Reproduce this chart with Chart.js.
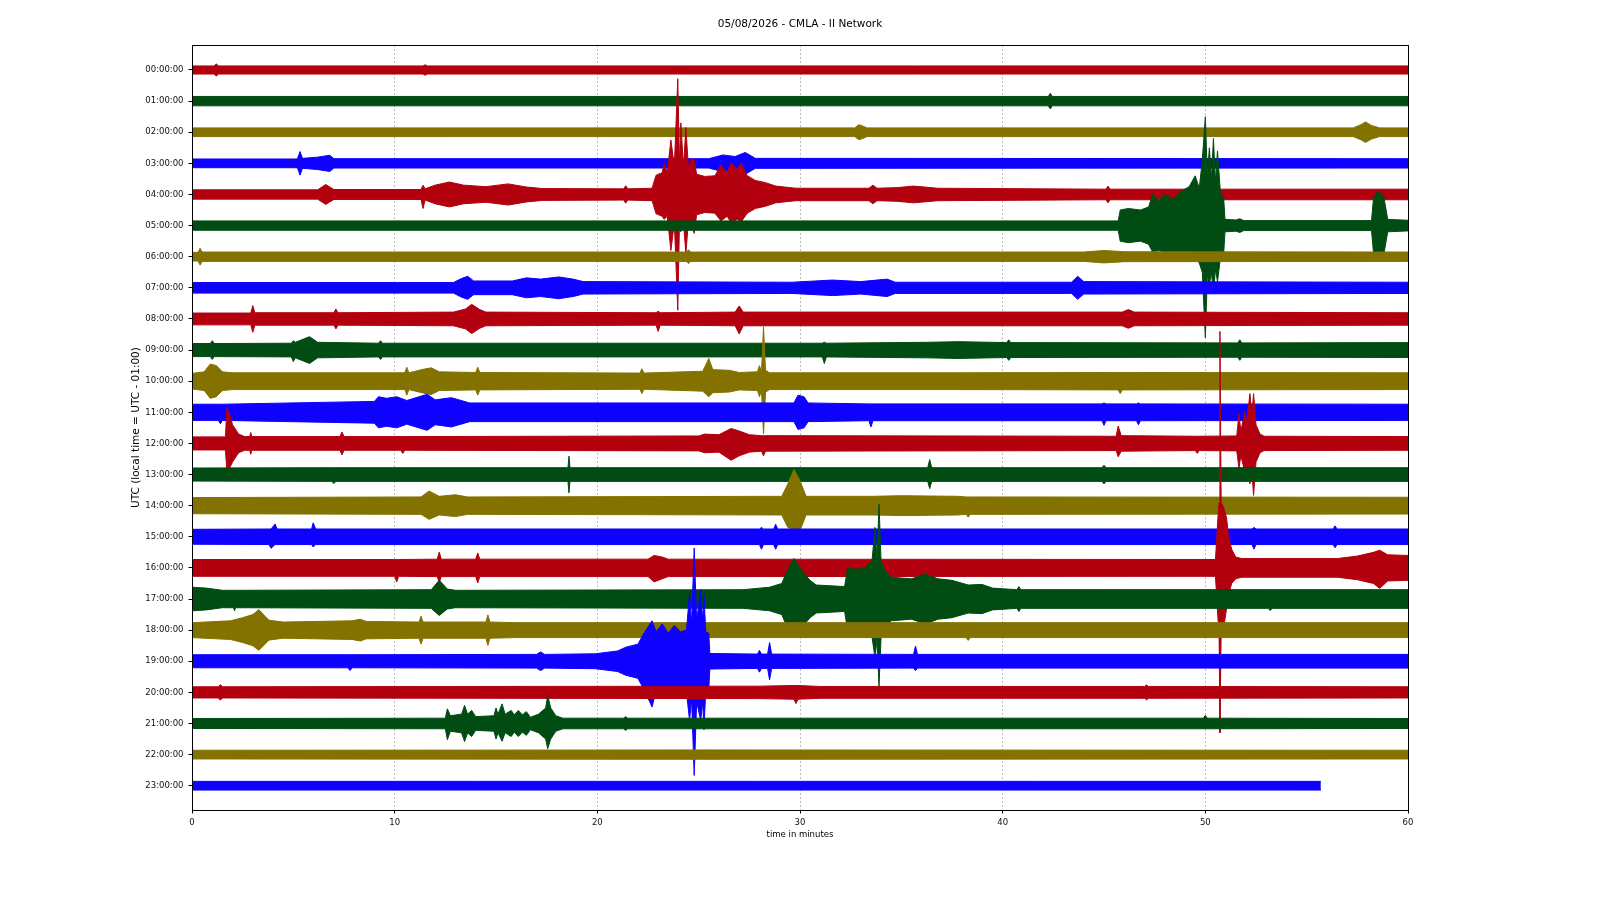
<!DOCTYPE html>
<html>
<head>
<meta charset="utf-8">
<title>05/08/2026 - CMLA - II Network</title>
<script src="https://cdn.jsdelivr.net/npm/chart.js@4.4.1/dist/chart.umd.min.js"></script>
<style>
  html, body { margin: 0; padding: 0; background: #fff; }
  canvas { display: block; }
</style>
</head>
<body>
<canvas id="heli" width="1600" height="900"></canvas>
<script>
// helicorder: one trace per hour, amplitude envelope
// each point is [minute, half-amplitude above, half-amplitude below (optional)]
// amplitudes are in units of line spacing
const chartTitle = "05/08/2026 - CMLA - II Network";
const yAxisTitle = "UTC (local time = UTC - 01:00)";
const xAxisTitle = "time in minutes";

const hourLabels = [
  "00:00:00", "01:00:00", "02:00:00", "03:00:00", "04:00:00", "05:00:00",
  "06:00:00", "07:00:00", "08:00:00", "09:00:00", "10:00:00", "11:00:00",
  "12:00:00", "13:00:00", "14:00:00", "15:00:00", "16:00:00", "17:00:00",
  "18:00:00", "19:00:00", "20:00:00", "21:00:00", "22:00:00", "23:00:00",
];

const traceColors = ["#B2000F", "#004C12", "#847200", "#0E01FF"];

const minuteTicks = [0, 10, 20, 30, 40, 50, 60];

const trace00 = [[0, 0.13], [1.1, 0.13], [1.2, 0.2], [1.3, 0.13], [11.4, 0.13], [11.5, 0.17], [11.6, 0.13], [60, 0.13]];
const trace01 = [[0, 0.15], [42.25, 0.15], [42.35, 0.25], [42.45, 0.15], [60, 0.15]];
const trace02 = [[0, 0.14], [32.7, 0.14], [32.9, 0.24], [33.1, 0.2], [33.3, 0.14], [57.3, 0.14], [57.7, 0.25], [57.9, 0.33],
  [58.2, 0.22], [58.6, 0.14], [60, 0.14]];
const trace03 = [[0, 0.14], [5.2, 0.14], [5.33, 0.38], [5.45, 0.16], [6.2, 0.2], [6.8, 0.26], [7.0, 0.15], [25.5, 0.15],
  [26.2, 0.27], [26.8, 0.22], [27.3, 0.35], [27.8, 0.16], [60, 0.15]];
const trace04 = [[0, 0.15], [6.2, 0.15], [6.6, 0.32], [7.0, 0.16], [11.3, 0.16], [11.4, 0.3, 0.45], [11.5, 0.18], [12.0, 0.3],
  [12.7, 0.4], [13.4, 0.3], [14.5, 0.25], [15.6, 0.34], [16.5, 0.24], [17.3, 0.19], [21.3, 0.18], [21.4, 0.28], [21.5, 0.18],
  [22.7, 0.2], [22.9, 0.62], [23.2, 0.7], [23.3, 1.0, 0.8], [23.45, 0.7], [23.63, 1.75, 1.8], [23.8, 0.9], [23.97, 3.72, 3.72],
  [24.05, 1.0], [24.12, 2.3, 1.2], [24.25, 0.9], [24.37, 2.15, 1.9], [24.5, 0.8], [24.65, 1.16, 1.0], [24.78, 1.1, 1.25],
  [24.9, 0.65], [25.3, 0.58], [25.8, 0.6], [26.1, 0.95, 0.85], [26.4, 0.7], [26.6, 1.0, 0.9], [26.9, 0.8], [27.1, 1.0, 0.88],
  [27.4, 0.6], [27.8, 0.45], [28.3, 0.38], [28.8, 0.27], [29.8, 0.2], [33.4, 0.2], [33.6, 0.3], [33.8, 0.2], [34.8, 0.22],
  [35.6, 0.27], [36.8, 0.2], [45.1, 0.17], [45.2, 0.27], [45.3, 0.17], [60, 0.17]];
const trace05 = [[0, 0.15], [45.7, 0.15], [45.8, 0.5], [46.2, 0.55], [46.8, 0.5], [47.2, 0.6], [47.4, 1.0, 0.85], [47.7, 0.8],
  [48.0, 1.0, 0.85], [48.4, 0.85], [48.8, 1.1, 0.85], [49.2, 1.25, 0.95], [49.5, 1.6, 1.0], [49.7, 1.2], [49.85, 2.1, 1.5],
  [50.0, 3.5, 3.6], [50.1, 1.6], [50.2, 2.5, 1.9], [50.3, 1.5], [50.4, 2.8, 2.2], [50.5, 1.4], [50.6, 2.4, 1.8], [50.75, 1.0],
  [50.9, 0.95], [50.97, 0.2], [51.5, 0.18], [51.7, 0.22], [51.9, 0.16], [58.2, 0.16], [58.3, 0.9], [58.5, 1.1, 0.9],
  [58.8, 0.95], [59.0, 0.2], [60, 0.17]];
const trace06 = [[0, 0.14], [0.3, 0.14], [0.4, 0.27], [0.5, 0.15], [24.4, 0.15], [24.5, 0.22], [24.6, 0.15], [44, 0.15],
  [45, 0.2], [46, 0.16], [60, 0.15]];
const trace07 = [[0, 0.17], [12.9, 0.17], [13.3, 0.3], [13.6, 0.37], [13.9, 0.22], [15.8, 0.22], [16.5, 0.32], [17.2, 0.28],
  [18.1, 0.35], [18.8, 0.28], [19.3, 0.2], [29.6, 0.18], [31.6, 0.25], [33, 0.2], [34.3, 0.28], [34.7, 0.18], [43.4, 0.18],
  [43.7, 0.37], [44.0, 0.2], [60, 0.18]];
const trace08 = [[0, 0.19], [2.9, 0.19], [3.0, 0.43], [3.1, 0.2], [7.0, 0.2], [7.1, 0.32], [7.2, 0.2], [12.9, 0.22],
  [13.5, 0.32], [13.8, 0.47], [14.2, 0.3], [14.5, 0.22], [22.9, 0.2], [23.0, 0.25, 0.4], [23.1, 0.2], [26.8, 0.22],
  [27.0, 0.42, 0.48], [27.2, 0.22], [45.9, 0.22], [46.2, 0.3], [46.5, 0.22], [60, 0.2]];
const trace09 = [[0, 0.21], [0.9, 0.21], [1.0, 0.3], [1.1, 0.21], [4.9, 0.22], [5.0, 0.3, 0.37], [5.1, 0.25], [5.8, 0.43],
  [6.2, 0.25], [9.2, 0.22], [9.3, 0.3], [9.4, 0.22], [31.1, 0.22], [31.2, 0.25, 0.43], [31.3, 0.22], [36.3, 0.25],
  [37.8, 0.27], [40.2, 0.24], [40.3, 0.33], [40.4, 0.24], [51.6, 0.23], [51.7, 0.33], [51.8, 0.23], [60, 0.24]];
const trace10 = [[0, 0.25], [0.6, 0.3], [0.9, 0.55], [1.2, 0.5], [1.5, 0.3], [2, 0.27], [10.5, 0.27], [10.6, 0.45],
  [10.7, 0.27], [11.4, 0.38], [11.8, 0.43], [12.2, 0.3], [14.0, 0.28], [14.1, 0.45], [14.2, 0.28], [22.1, 0.26], [22.2, 0.4],
  [22.3, 0.26], [25.2, 0.32], [25.5, 0.73, 0.5], [25.7, 0.37], [26.5, 0.35], [27, 0.28], [27.9, 0.3], [28.0, 0.5],
  [28.1, 0.3], [28.2, 1.75, 1.7], [28.3, 0.35], [28.5, 0.27], [37, 0.27], [45.7, 0.28], [45.8, 0.28, 0.4], [45.9, 0.28],
  [60, 0.27]];
const trace11 = [[0, 0.26], [1.3, 0.26], [1.4, 0.26, 0.37], [1.5, 0.26], [9.0, 0.35], [9.2, 0.5], [9.6, 0.45], [10.1, 0.5],
  [10.6, 0.38], [11.6, 0.58], [12.0, 0.4], [12.8, 0.47], [13.7, 0.3], [29.7, 0.3], [29.9, 0.55], [30.2, 0.5], [30.4, 0.3],
  [33.4, 0.27], [33.5, 0.27, 0.47], [33.6, 0.27], [44.9, 0.27], [45.0, 0.3, 0.42], [45.1, 0.27], [46.6, 0.27],
  [46.7, 0.3, 0.4], [46.8, 0.27], [60, 0.26]];
const trace12 = [[0, 0.21], [1.65, 0.21], [1.72, 1.13, 0.86], [1.85, 0.95, 0.8], [2.0, 0.6], [2.3, 0.3], [2.6, 0.22],
  [2.85, 0.22], [2.9, 0.35], [2.95, 0.22], [7.3, 0.22], [7.4, 0.37], [7.5, 0.22], [10.3, 0.22], [10.4, 0.22, 0.32],
  [10.5, 0.22], [25.0, 0.24], [25.3, 0.3], [26.0, 0.28], [26.6, 0.48, 0.54], [27.0, 0.4], [27.5, 0.28], [28.1, 0.25],
  [28.2, 0.25, 0.4], [28.3, 0.25], [45.6, 0.23], [45.7, 0.56, 0.43], [45.85, 0.25], [49.5, 0.23], [49.6, 0.23, 0.32],
  [49.7, 0.23], [51.55, 0.24], [51.66, 0.96, 0.8], [51.75, 0.4], [51.95, 1.0, 0.9], [52.05, 0.7], [52.2, 1.6, 1.3],
  [52.3, 0.9], [52.38, 1.6, 1.67], [52.5, 0.6], [52.7, 0.3], [52.9, 0.23], [60, 0.22]];
const trace13 = [[0, 0.21], [6.9, 0.22], [7.0, 0.22, 0.29], [7.1, 0.22], [18.55, 0.22], [18.6, 0.59], [18.65, 0.22],
  [36.3, 0.22], [36.4, 0.48, 0.45], [36.5, 0.22], [44.9, 0.22], [45.0, 0.3], [45.1, 0.22], [60, 0.22]];
const trace14 = [[0, 0.26], [11.3, 0.28], [11.7, 0.47, 0.44], [12.2, 0.3], [13, 0.35], [13.6, 0.28], [29.1, 0.3], [29.4, 0.7],
  [29.7, 1.16, 0.77], [30.0, 0.8], [30.3, 0.3], [33.6, 0.3], [35, 0.32], [37.8, 0.3], [38.2, 0.28], [38.3, 0.28, 0.37],
  [38.4, 0.28], [60, 0.27]];
const trace15 = [[0, 0.24], [3.8, 0.25], [3.9, 0.25, 0.37], [4.1, 0.41, 0.25], [4.2, 0.25], [5.9, 0.25], [5.98, 0.45, 0.33],
  [6.1, 0.25], [28.0, 0.25], [28.1, 0.3, 0.4], [28.2, 0.25], [28.7, 0.25], [28.8, 0.4], [28.9, 0.25], [52.3, 0.25],
  [52.4, 0.3, 0.4], [52.5, 0.25], [56.3, 0.25], [56.4, 0.35], [56.5, 0.25], [60, 0.25]];
const trace16 = [[0, 0.27], [10.0, 0.27], [10.1, 0.27, 0.45], [10.2, 0.27], [12.1, 0.28], [12.2, 0.51, 0.48], [12.3, 0.28],
  [14.0, 0.28], [14.1, 0.48], [14.2, 0.28], [22.5, 0.28], [22.8, 0.4, 0.45], [23.2, 0.35], [23.5, 0.28], [50.5, 0.27],
  [50.62, 1.6], [50.68, 2.1], [50.72, 7.6, 5.3], [50.78, 2.1], [50.9, 1.95], [51.05, 1.6, 1.3], [51.15, 1.0, 0.85],
  [51.3, 0.6, 0.5], [51.5, 0.35], [51.8, 0.3], [56.5, 0.3], [57.5, 0.38], [58.3, 0.5], [58.6, 0.57, 0.66], [59.0, 0.42],
  [60, 0.4]];
const trace17 = [[0, 0.38], [0.7, 0.35], [1.5, 0.28], [2.05, 0.28], [2.1, 0.28, 0.38], [2.15, 0.28], [11.8, 0.3],
  [12.2, 0.6, 0.53], [12.6, 0.32], [13, 0.28], [27.2, 0.3], [28.5, 0.38], [29.1, 0.5], [29.4, 0.96], [29.7, 1.3, 0.8],
  [30.1, 0.9], [30.5, 0.6], [30.8, 0.45], [32.2, 0.4], [32.35, 1.0], [32.8, 0.95], [33.2, 1.0], [33.55, 1.2],
  [33.7, 2.3, 1.9], [33.8, 1.3], [33.9, 3.05, 2.8], [34.0, 1.2], [34.2, 0.9], [34.5, 0.7], [35.5, 0.65], [36.2, 0.8],
  [36.8, 0.65], [37.5, 0.6], [38.3, 0.45], [38.98, 0.47], [39.5, 0.35], [40.7, 0.3], [40.8, 0.4], [40.9, 0.3],
  [53.1, 0.3], [53.2, 0.3, 0.37], [53.3, 0.3], [60, 0.3]];
const trace18 = [[0, 0.24], [1.9, 0.3], [2.5, 0.4], [3.0, 0.5], [3.3, 0.66, 0.65], [3.6, 0.45], [3.8, 0.32], [4.5, 0.26],
  [7.9, 0.3], [8.3, 0.35], [8.6, 0.28], [11.2, 0.26], [11.3, 0.45], [11.4, 0.26], [14.5, 0.26], [14.6, 0.49], [14.7, 0.26],
  [16, 0.24], [38.2, 0.24], [38.3, 0.24, 0.33], [38.4, 0.24], [60, 0.24]];
const trace19 = [[0, 0.21], [7.7, 0.21], [7.8, 0.21, 0.3], [7.9, 0.21], [17.0, 0.22], [17.2, 0.3], [17.4, 0.22],
  [19.9, 0.24], [21.0, 0.33], [21.4, 0.45], [22.0, 0.55], [22.3, 0.9], [22.7, 1.3, 1.47], [22.9, 0.95], [23.2, 1.2, 1.0],
  [23.5, 0.9], [23.8, 1.15, 1.0], [24.1, 0.95], [24.4, 1.0], [24.55, 2.2, 1.9], [24.65, 1.2], [24.78, 3.64, 3.67],
  [24.9, 1.3], [25.1, 2.3, 1.9], [25.2, 1.3], [25.26, 2.15, 2.2], [25.35, 0.95], [25.5, 0.9], [25.55, 0.25], [27.9, 0.23],
  [28.0, 0.35], [28.1, 0.23], [28.4, 0.23], [28.5, 0.6], [28.6, 0.23], [35.6, 0.22], [35.7, 0.49, 0.3], [35.8, 0.22],
  [60, 0.22]];
const trace20 = [[0, 0.18], [1.3, 0.18], [1.4, 0.25], [1.5, 0.18], [28, 0.2], [29.7, 0.22], [29.8, 0.22, 0.36],
  [29.9, 0.22], [31, 0.19], [47, 0.19], [47.1, 0.24], [47.2, 0.19], [60, 0.18]];
const trace21 = [[0, 0.16], [12.5, 0.17], [12.6, 0.47, 0.52], [12.75, 0.25], [13.3, 0.3], [13.45, 0.58], [13.6, 0.3],
  [13.8, 0.42], [14.0, 0.22], [14.9, 0.25], [15.0, 0.5], [15.1, 0.3], [15.3, 0.63, 0.57], [15.45, 0.3], [15.75, 0.42],
  [15.9, 0.28], [16.1, 0.42], [16.3, 0.28], [16.5, 0.38], [16.7, 0.2], [17.1, 0.3], [17.45, 0.5], [17.55, 0.9, 0.81],
  [17.7, 0.5], [17.95, 0.25], [18.3, 0.17], [21.3, 0.17], [21.4, 0.22], [21.5, 0.17], [49.9, 0.17], [50.0, 0.26, 0.17],
  [50.1, 0.17], [60, 0.16]];
const trace22 = [[0, 0.14], [25, 0.15], [60, 0.14]];
const trace23 = [[0, 0.14], [55.7, 0.14]];

const traces = [
  trace00, trace01, trace02, trace03, trace04, trace05, trace06, trace07,
  trace08, trace09, trace10, trace11, trace12, trace13, trace14, trace15,
  trace16, trace17, trace18, trace19, trace20, trace21, trace22, trace23,
];

Chart.defaults.font.family = "'DejaVu Sans', 'Liberation Sans', sans-serif";
Chart.defaults.color = "#111";

function buildDatasets() {
  const datasets = [];
  traces.forEach((points, row) => {
    const color = traceColors[row % traceColors.length];
    const common = {
      borderColor: color,
      backgroundColor: color,
      borderWidth: 1,
      borderJoinStyle: "round",
      pointRadius: 0,
      tension: 0,
      // later hours sit on top, like the original plot
      order: traces.length - row,
    };
    datasets.push({ ...common, data: points.map((p) => ({ x: p[0], y: row - p[1] })), fill: "+1" });
    datasets.push({ ...common, data: points.map((p) => ({ x: p[0], y: row + (p[2] ?? p[1]) })), fill: false });
  });
  return datasets;
}

const framePlugin = {
  id: "frame",
  afterDatasetsDraw(chart) {
    const { ctx, chartArea: a } = chart;
    ctx.save();
    ctx.strokeStyle = "#000";
    ctx.lineWidth = 1;
    ctx.strokeRect(Math.round(a.left) + 0.5, Math.round(a.top) + 0.5,
      Math.round(a.right - a.left), Math.round(a.bottom - a.top));
    ctx.restore();
  },
};

new Chart(document.getElementById("heli"), {
  type: "line",
  data: { datasets: buildDatasets() },
  plugins: [framePlugin],
  options: {
    responsive: false,
    animation: false,
    devicePixelRatio: 1,
    layout: { padding: 0 },
    plugins: {
      legend: { display: false },
      tooltip: { enabled: false },
      title: {
        display: true,
        text: chartTitle,
        color: "#000",
        font: { size: 10.5, weight: "normal" },
        padding: { top: 17.5, bottom: 15 },
      },
    },
    scales: {
      x: {
        type: "linear",
        min: minuteTicks[0],
        max: minuteTicks[minuteTicks.length - 1],
        afterBuildTicks: (s) => { s.ticks = minuteTicks.map((v) => ({ value: v })); },
        afterFit: (s) => { s.height = 90; },
        ticks: { font: { size: 8.5 }, color: "#111", padding: 4, maxRotation: 0 },
        grid: {
          color: (c) => (c.tick && (c.tick.value === 0 || c.tick.value === 60) ? "rgba(0,0,0,0)" : "#aaaaaa"),
          lineWidth: 0.8,
          tickLength: 3.5,
          tickColor: "#000",
          tickWidth: 1,
        },
        border: { display: false, dash: [2, 2] },
        title: {
          display: true,
          text: xAxisTitle,
          color: "#000",
          font: { size: 8.5 },
          padding: { top: 0, bottom: 60.4 },
        },
      },
      y: {
        type: "linear",
        reverse: true,
        min: -0.8,
        max: 23.78,
        afterBuildTicks: (s) => { s.ticks = hourLabels.map((_, i) => ({ value: i })); },
        afterFit: (s) => { s.width = 192; },
        ticks: {
          autoSkip: false,
          font: { size: 8.5 },
          color: "#111",
          padding: 5,
          callback: (v) => hourLabels[v] ?? "",
        },
        grid: { drawOnChartArea: false, tickLength: 3.5, tickColor: "#000", tickWidth: 1 },
        border: { display: false },
        title: {
          display: true,
          text: yAxisTitle,
          color: "#000",
          font: { size: 10.5 },
          padding: { top: 129.5, bottom: 0 },
        },
      },
      // empty right-hand margin so the title centres over the plot
      yMargin: {
        type: "linear",
        position: "right",
        display: true,
        afterFit: (s) => { s.width = 192; },
        ticks: { display: false },
        grid: { display: false },
        border: { display: false },
      },
    },
  },
});
</script>
</body>
</html>
